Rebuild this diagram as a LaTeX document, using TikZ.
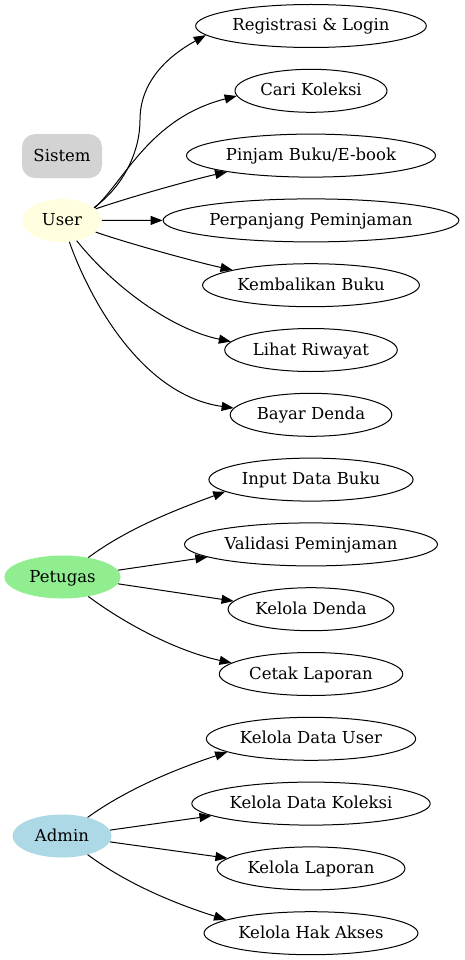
\documentclass[tikz,border=0pt]{standalone}
\usepackage{fontspec}
\setmainfont{DejaVu Serif}
\usepackage{tikz}
\usetikzlibrary{arrows.meta, positioning, shapes.geometric}
\usepackage{xcolor}
\definecolor{LiteGray}{HTML}{D3D3D3}
\definecolor{LiteYellow}{HTML}{FFFFE0}
\definecolor{LiteGreen}{HTML}{90EE90}
\definecolor{LiteBlue}{HTML}{ADD8E6}
\tikzset{%
  usecase/.style={%
    ellipse,%
    draw=black,%
    line width=1pt,%
    minimum height=43pt,%
    inner xsep=3pt,%
    inner ysep=2pt,%
    text height=13.5pt,%
    text depth=3.5pt,%
    font={\fontsize{16.5pt}{20pt}\selectfont},%
  },
  actor/.style={%
    ellipse,%
    draw=none,%
    minimum height=43pt,%
    inner xsep=8pt,%
    inner ysep=2pt,%
    text height=13.5pt,%
    text depth=3.5pt,%
    font={\fontsize{16.5pt}{20pt}\selectfont},%
  },
  legend/.style={%
    rectangle,%
    rounded corners=13pt,%
    fill=LiteGray,%
    minimum width=80pt,%
    minimum height=44pt,%
    text height=13.5pt,%
    text depth=3.5pt,%
    font={\fontsize{16.5pt}{20pt}\selectfont},%
  },
  signal/.style={%
    color=black,%
    line width=1pt,%
    line join=round,%
  },
  arrow/.style={-{Triangle[length=12pt, width=9pt]}},
}
\begin{document}
\begin{tikzpicture}[x=1pt, y=-1pt]
    \useasboundingbox (0,0) rectangle (465,960);

    % actors
    \node [actor, fill=LiteYellow] (User) at (62,220.5) {User};
    \node [legend, above=20.5pt of User] (Sistem) {Sistem};
    \node [actor, fill=LiteGreen] (Petugas) at (62.5,577) {Petugas};
    \node [actor, fill=LiteBlue] (Admin) at (62,836) {Admin};

    % use cases
    \node [usecase] (Registrasi) at (311,26) {Registrasi \& Login};
    \node [usecase, below=20.8pt of Registrasi] (CariKoleksi) {Cari Koleksi};
    \node [usecase, below=20.8pt of CariKoleksi] (PinjamBuku) {Pinjam Buku/E-book};
    \node [usecase, below=20.8pt of PinjamBuku] (Perpanjang) {Perpanjang Peminjaman};
    \node [usecase, below=20.8pt of Perpanjang] (Kembalikan) {Kembalikan Buku};
    \node [usecase, below=20.8pt of Kembalikan] (LihatRiwayat) {Lihat Riwayat};
    \node [usecase, below=20.8pt of LihatRiwayat] (BayarDenda) {Bayar Denda};
    \node [usecase, below=20.8pt of BayarDenda] (InputBuku) {Input Data Buku};
    \node [usecase, below=20.8pt of InputBuku] (ValidasiPinjam) {Validasi Peminjaman};
    \node [usecase, below=20.8pt of ValidasiPinjam] (KelolaDenda) {Kelola Denda};
    \node [usecase, below=20.8pt of KelolaDenda] (CetakLaporan) {Cetak Laporan};
    \node [usecase, below=20.8pt of CetakLaporan] (KelolaUser) {Kelola Data User};
    \node [usecase, below=20.8pt of KelolaUser] (KelolaKoleksi) {Kelola Data Koleksi};
    \node [usecase, below=20.8pt of KelolaKoleksi] (KelolaLaporan) {Kelola Laporan};
    \node [usecase, below=20.8pt of KelolaLaporan] (KelolaAkses) {Kelola Hak Akses};

    % User
    \draw [arrow, signal]
      (User.22) .. controls (125,185) and (140,150) .. (140,120)
      .. controls (140,80) and (170,55) .. (Registrasi.185);
    \draw [arrow, signal]
      (User.21) .. controls (125,180) and (150,118) .. (CariKoleksi.184);
    \draw [arrow, signal]
      (User.19) .. controls (130,197) and (195,179) .. (PinjamBuku.191);
    \draw [arrow, signal]
      (User.east) -- (Perpanjang.west);
    \draw [arrow, signal]
      (User.-19) .. controls (130,244) and (200,263) .. (Kembalikan.169);
    \draw [arrow, signal]
      (User.-54) .. controls (112,285) and (170,329) .. (LihatRiwayat.174);
    \draw [arrow, signal]
      (User.-71) .. controls (88,295) and (140,395) .. (BayarDenda.175);

    % Petugas
    \draw [arrow, signal]
      (Petugas.37) .. controls (128,528) and (178,509) .. (InputBuku.188);
    \draw [arrow, signal]
      (Petugas.7) -- (ValidasiPinjam.187);
    \draw [arrow, signal]
      (Petugas.-7) -- (KelolaDenda.174);
    \draw [arrow, signal]
      (Petugas.-37) .. controls (128,626) and (180,652) .. (CetakLaporan.172);

    % Admin
    \draw [arrow, signal]
      (Admin.36) .. controls (127,789) and (176,769) .. (KelolaUser.189);
    \draw [arrow, signal]
      (Admin.7) -- (KelolaKoleksi.187);
    \draw [arrow, signal]
      (Admin.-7) -- (KelolaLaporan.173);
    \draw [arrow, signal]
      (Admin.-36) .. controls (127,884) and (176,904) .. (KelolaAkses.171);
  \end{tikzpicture}
\end{document}
